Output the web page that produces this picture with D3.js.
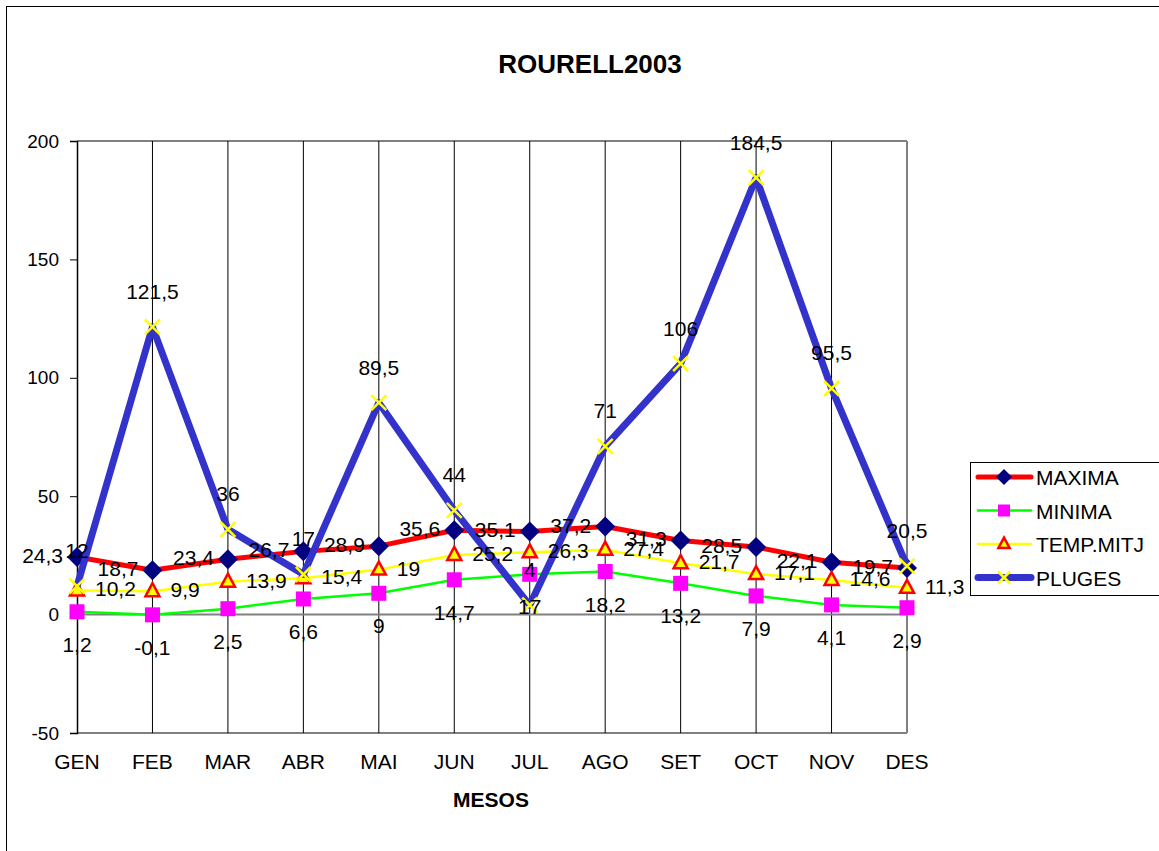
<!DOCTYPE html>
<html>
<head>
<meta charset="utf-8">
<script src="https://cdn.jsdelivr.net/npm/d3@7"></script>
<style>
  body { margin: 0; background: #fff; }
  text { font-family: "Liberation Sans", Arial, sans-serif; }
</style>
</head>
<body>
<script>

// data
var months = ['GEN', 'FEB', 'MAR', 'ABR', 'MAI', 'JUN', 'JUL', 'AGO', 'SET', 'OCT', 'NOV', 'DES'];
var maxima = [24.3, 18.7, 23.4, 26.7, 28.9, 35.6, 35.1, 37.2, 31.3, 28.5, 22.1, 19.7];
var minima = [1.2, -0.1, 2.5, 6.6, 9, 14.7, 17, 18.2, 13.2, 7.9, 4.1, 2.9];
var tempMitj = [10.2, 9.9, 13.9, 15.4, 19, 25.2, 26.3, 27.4, 21.7, 17.1, 14.6, 11.3];
var pluges = [12, 121.5, 36, 17, 89.5, 44, 4, 71, 106, 184.5, 95.5, 20.5];
var yTicks = [-50, 0, 50, 100, 150, 200];

var series = [
    { name: 'MAXIMA', values: maxima, line: '#ff0000', lw: 5, marker: 'diamond', fill: '#000080', stroke: '#000080', label: 'left' },
    { name: 'MINIMA', values: minima, line: '#00ff00', lw: 2.5, marker: 'square', fill: '#ff00ff', stroke: '#ff00ff', label: 'below' },
    { name: 'TEMP.MITJ', values: tempMitj, line: '#ffff00', lw: 2.5, marker: 'triangle', fill: '#ffff00', stroke: '#ff0000', label: 'right' },
    { name: 'PLUGES', values: pluges, line: '#3333cc', lw: 7, marker: 'cross', fill: 'none', stroke: '#ffff00', label: 'above' }
];

var svg = d3.select('body').append('svg')
    .attr('width', 1159)
    .attr('height', 851);

// outer chart border
svg.append('rect')
    .attr('x', 6.5).attr('y', 6.5)
    .attr('width', 1200).attr('height', 900)
    .attr('fill', 'none').attr('stroke', '#000');

var pLeft = 77, pRight = 907, pTop = 141, pBottom = 733;

var x = d3.scalePoint().domain(months).range([pLeft, pRight]);
var y = d3.scaleLinear().domain([-50, 200]).range([pBottom, pTop]);

// title
svg.append('text')
    .attr('x', 590).attr('y', 73)
    .attr('text-anchor', 'middle')
    .style('font-size', '26px').style('font-weight', 'bold')
    .text('ROURELL2003');

// plot frame
var g = svg.append('g');
g.append('line').attr('x1', pLeft).attr('x2', pRight).attr('y1', pTop).attr('y2', pTop).attr('stroke', '#808080').attr('stroke-width', 2);
g.append('line').attr('x1', pLeft).attr('x2', pRight).attr('y1', pBottom).attr('y2', pBottom).attr('stroke', '#808080').attr('stroke-width', 2);
g.append('line').attr('x1', pRight).attr('x2', pRight).attr('y1', pTop).attr('y2', pBottom).attr('stroke', '#808080').attr('stroke-width', 2);

// vertical gridlines
g.selectAll('.vgrid')
    .data(months.slice(1, -1))
    .enter().append('line')
    .attr('class', 'vgrid')
    .attr('x1', d => x(d)).attr('x2', d => x(d))
    .attr('y1', pTop).attr('y2', pBottom)
    .attr('stroke', '#000').attr('stroke-width', 1);

// zero line
g.append('line')
    .attr('x1', pLeft).attr('x2', pRight)
    .attr('y1', y(0)).attr('y2', y(0))
    .attr('stroke', '#808080').attr('stroke-width', 2);

// y axis
var yAxis = svg.append('g')
    .attr('transform', 'translate(' + pLeft + ',0)')
    .call(d3.axisLeft(y).tickValues(yTicks).tickSize(7).tickPadding(11).tickFormat(d => d));
yAxis.select('.domain').attr('stroke', '#000').attr('stroke-width', 1.5);
yAxis.selectAll('.tick line').attr('stroke', '#000');
yAxis.selectAll('text').style('font-size', '19px').style('font-family', '"Liberation Sans", Arial, sans-serif').attr('fill', '#000');

// category labels
svg.selectAll('.cat')
    .data(months)
    .enter().append('text')
    .attr('class', 'cat')
    .attr('x', d => x(d))
    .attr('y', 769)
    .attr('text-anchor', 'middle')
    .style('font-size', '21px')
    .text(d => d);

svg.append('text')
    .attr('x', 491).attr('y', 807)
    .attr('text-anchor', 'middle')
    .style('font-size', '21px').style('font-weight', 'bold')
    .text('MESOS');

// markers
function drawMarker(sel, s, cx, cy, k) {
    k = k || 1;
    if (s.marker == 'diamond') {
        var r = 10 * k;
        sel.append('path')
            .attr('d', 'M' + cx + ',' + (cy - r) + 'L' + (cx + r) + ',' + cy + 'L' + cx + ',' + (cy + r) + 'L' + (cx - r) + ',' + cy + 'Z')
            .attr('fill', s.fill);
    } else if (s.marker == 'square') {
        var h = 7.5 * k;
        sel.append('rect')
            .attr('x', cx - h).attr('y', cy - h).attr('width', 2 * h).attr('height', 2 * h)
            .attr('fill', s.fill);
    } else if (s.marker == 'triangle') {
        sel.append('path')
            .attr('d', 'M' + cx + ',' + (cy - 8 * k) + 'L' + (cx + 7 * k) + ',' + (cy + 5 * k) + 'L' + (cx - 7 * k) + ',' + (cy + 5 * k) + 'Z')
            .attr('fill', s.fill).attr('stroke', s.stroke).attr('stroke-width', 2.5);
    } else {
        var c = 7.5 * k;
        sel.append('path')
            .attr('d', 'M' + (cx - c) + ',' + (cy - c) + 'L' + (cx + c) + ',' + (cy + c) + 'M' + (cx + c) + ',' + (cy - c) + 'L' + (cx - c) + ',' + (cy + c))
            .attr('stroke', s.stroke).attr('stroke-width', 2.5);
    }
}

var line = d3.line()
    .x((d, i) => x(months[i]))
    .y(d => y(d));

var fmt = v => String(v).replace('.', ',');

series.forEach(function (s) {
    var sg = svg.append('g');
    sg.append('path')
        .attr('d', line(s.values))
        .attr('fill', 'none')
        .attr('stroke', s.line)
        .attr('stroke-width', s.lw)
        .attr('stroke-linejoin', 'round');
    s.values.forEach(function (v, i) {
        drawMarker(sg, s, x(months[i]), y(v));
    });
});

// data labels (on top)
series.forEach(function (s) {
    svg.append('g').selectAll('text')
        .data(s.values)
        .enter().append('text')
        .attr('x', (d, i) => {
            var px = x(months[i]);
            if (s.label == 'left') return px - 14;
            if (s.label == 'right') return px + 18;
            return px;
        })
        .attr('y', d => {
            var py = y(d);
            if (s.label == 'above') return py - 28;
            if (s.label == 'below') return py + 40;
            return py + 6;
        })
        .attr('text-anchor', s.label == 'left' ? 'end' : (s.label == 'right' ? 'start' : 'middle'))
        .style('font-size', '21px')
        .text(d => fmt(d));
});

// legend
var lg = svg.append('g');
lg.append('rect')
    .attr('x', 970.5).attr('y', 462.5)
    .attr('width', 190).attr('height', 133)
    .attr('fill', '#fff').attr('stroke', '#000');

series.forEach(function (s, i) {
    var ly = 477 + i * 33.5;
    lg.append('line')
        .attr('x1', 978).attr('x2', 1031)
        .attr('y1', ly).attr('y2', ly)
        .attr('stroke', s.line).attr('stroke-width', s.lw)
        .attr('stroke-linecap', 'round');
    drawMarker(lg, s, 1004, ly, 0.8);
    lg.append('text')
        .attr('x', 1036).attr('y', ly + 8)
        .style('font-size', '21px')
        .text(s.name);
});

</script>
</body>
</html>
